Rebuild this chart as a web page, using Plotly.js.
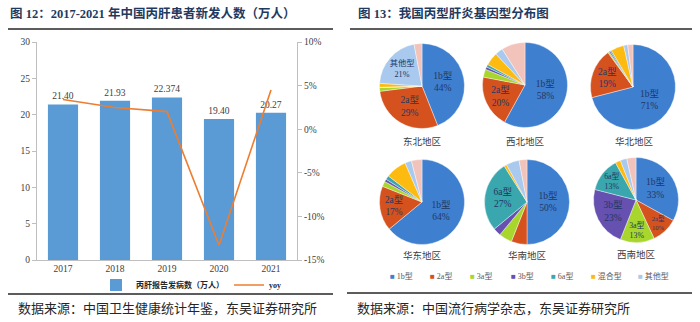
<!DOCTYPE html>
<html>
<head>
<meta charset="utf-8">
<script src="https://cdn.plot.ly/plotly-3.0.1.min.js"></script>
<style>html,body{margin:0;padding:0;background:#fff;}#chart{width:700px;height:322px;}</style>
</head>
<body>
<div id="chart"></div>
<script>
// ---- Left chart data ----
const years = ['2017', '2018', '2019', '2020', '2021'];
const newCases = [21.40, 21.93, 22.374, 19.40, 20.27];
const caseLabels = ['21.40', '21.93', '22.374', '19.40', '20.27'];
const yoy = [3.4, 2.48, 2.02, -13.3, 4.5];
const yoyTickVals = [-15, -10, -5, 0, 5, 10];
const yoyTickText = ['-15%', '-10%', '-5%', '0%', '5%', '10%'];

// ---- Right chart data ----
const genotypes = ['1b型', '2a型', '3a型', '3b型', '6a型', '混合型', '其他型', '未分型'];
const legendGenotypes = ['1b型', '2a型', '3a型', '3b型', '6a型', '混合型', '其他型'];
const regions = ['东北地区', '西北地区', '华北地区', '华东地区', '华南地区', '西南地区'];
const northeast = [44, 29, 1.5, 0, 0, 1.5, 21, 3];
const northwest = [58, 20, 3, 1, 1, 5, 3, 9];
const northChina = [71, 19, 0.5, 0.5, 0.5, 5, 1.5, 2];
const eastChina = [64, 17, 2, 1, 1.5, 8, 2.5, 4];
const southChina = [50, 6, 5, 3, 27, 1, 5, 3];
const southwest = [33, 10, 13, 23, 13, 2, 2.5, 3.5];
const labeledSlices = [
  ['1b型', '2a型', '其他型'],
  ['1b型', '2a型'],
  ['1b型', '2a型'],
  ['1b型', '2a型'],
  ['1b型', '6a型'],
  ['1b型', '2a型', '3a型', '3b型', '6a型']
];

// ---- styling ----
const W = 700, H = 322;
const px = x => x / W;
const py = y => 1 - y / H;
const genoColors = ['#3f7fcf', '#d5521f', '#a8d62c', '#6650b0', '#3aa6ae', '#fdbb11', '#a9c9ee', '#f2c3ba'];
const serif = 'Liberation Serif, Noto Sans CJK SC, serif';
const cjk = 'Noto Sans CJK SC, sans-serif';
const greyText = '#404040';
const axisGrey = '#bfbfbf';

const traces = [];
traces.push({
  type: 'bar', x: years, y: newCases, name: '<b>丙肝报告发病数（万人）</b>',
  marker: {color: '#5b9bd5'},
  text: caseLabels, textposition: 'outside', cliponaxis: false,
  textfont: {family: serif, size: 9.5, color: greyText},
  xaxis: 'x', yaxis: 'y', legend: 'legend', hoverinfo: 'skip'
});
traces.push({
  type: 'scatter', mode: 'lines', x: years, y: yoy, name: '<b>yoy</b>',
  line: {color: '#ed7d31', width: 1.6},
  xaxis: 'x', yaxis: 'y2', legend: 'legend', hoverinfo: 'skip'
});

const pieData = [northeast, northwest, northChina, eastChina, southChina, southwest];
const pieCenters = [[422, 86], [525, 85], [633, 87], [422, 202], [527, 202], [636, 200]];
const pieR = 42.5;
const regionLabelPos = [[422, 141], [525, 141], [634, 141], [422, 256], [527, 256], [636, 254]];

pieData.forEach((vals, i) => {
  const [cx, cy] = pieCenters[i];
  const tmpl = genotypes.map(g => labeledSlices[i].includes(g) ? '%{label}<br>%{percent:.0%}' : '');
  traces.push({
    type: 'pie', labels: genotypes, values: vals, sort: false,
    direction: 'clockwise', rotation: 0,
    domain: {x: [px(cx - pieR), px(cx + pieR)], y: [py(cy + pieR), py(cy - pieR)]},
    marker: {colors: genoColors, line: {color: '#ffffff', width: 0.4}},
    texttemplate: tmpl, textposition: 'inside', insidetextorientation: 'horizontal',
    textfont: {family: serif, size: 9.5, color: '#1f3864'},
    showlegend: false, hoverinfo: 'skip', name: regions[i]
  });
});

const annotations = [];
annotations.push({
  text: '<b>图 12：2017-2021 年中国丙肝患者新发人数（万人）</b>',
  xref: 'paper', yref: 'paper', x: px(8), y: py(14), xanchor: 'left', yanchor: 'middle',
  showarrow: false, font: {family: serif, size: 12.5, color: '#1f3a5f'}
});
annotations.push({
  text: '<b>图 13：我国丙型肝炎基因型分布图</b>',
  xref: 'paper', yref: 'paper', x: px(356), y: py(14), xanchor: 'left', yanchor: 'middle',
  showarrow: false, font: {family: serif, size: 12.5, color: '#1f3a5f'}
});
annotations.push({
  text: '数据来源：中国卫生健康统计年鉴，东吴证券研究所',
  xref: 'paper', yref: 'paper', x: px(16), y: py(307), xanchor: 'left', yanchor: 'middle',
  showarrow: false, font: {family: cjk, size: 13, color: '#262626'}
});
annotations.push({
  text: '数据来源：中国流行病学杂志，东吴证券研究所',
  xref: 'paper', yref: 'paper', x: px(355), y: py(307), xanchor: 'left', yanchor: 'middle',
  showarrow: false, font: {family: cjk, size: 13, color: '#262626'}
});
regions.forEach((r, i) => {
  annotations.push({
    text: r, xref: 'paper', yref: 'paper', x: px(regionLabelPos[i][0]), y: py(regionLabelPos[i][1]),
    xanchor: 'center', yanchor: 'middle', showarrow: false,
    font: {family: serif, size: 9.5, color: greyText}
  });
});
const legendX = [388, 428, 468, 509, 549, 589, 636];
legendGenotypes.forEach((g, i) => {
  annotations.push({
    text: '<span style="color:' + genoColors[i] + '">■</span> ' + g,
    xref: 'paper', yref: 'paper', x: px(legendX[i]), y: py(276),
    xanchor: 'left', yanchor: 'middle', showarrow: false,
    font: {family: serif, size: 8, color: '#595959'}
  });
});

const lineStyle = {color: '#262626', width: 1.6};
const shapes = [
  {type: 'line', xref: 'paper', yref: 'paper', x0: px(8), x1: px(333), y0: py(29), y1: py(29), line: lineStyle},
  {type: 'line', xref: 'paper', yref: 'paper', x0: px(350), x1: px(692), y0: py(29), y1: py(29), line: lineStyle},
  {type: 'line', xref: 'paper', yref: 'paper', x0: px(8), x1: px(333), y0: py(294), y1: py(294), line: lineStyle},
  {type: 'line', xref: 'paper', yref: 'paper', x0: px(347), x1: px(692), y0: py(293), y1: py(293), line: lineStyle}
];

const layout = {
  width: W, height: H,
  margin: {l: 0, r: 0, t: 0, b: 0},
  paper_bgcolor: '#ffffff', plot_bgcolor: 'rgba(0,0,0,0)',
  bargap: 0.42,
  showlegend: true,
  xaxis: {
    domain: [px(37), px(297)], type: 'category', anchor: 'y',
    showline: true, linecolor: axisGrey, linewidth: 1, ticks: '',
    tickfont: {family: serif, size: 9.5, color: greyText}, showgrid: false, zeroline: false,
    fixedrange: true
  },
  yaxis: {
    domain: [py(260), py(42)], range: [0, 30], dtick: 5, anchor: 'x',
    showline: true, linecolor: axisGrey, linewidth: 1, ticks: 'outside', ticklen: 4, tickcolor: axisGrey,
    tickfont: {family: serif, size: 9.5, color: greyText}, showgrid: false, zeroline: false
  },
  yaxis2: {
    overlaying: 'y', side: 'right', anchor: 'x', range: [-15, 10],
    tickvals: yoyTickVals, ticktext: yoyTickText,
    showline: true, linecolor: axisGrey, linewidth: 1, ticks: 'outside', ticklen: 4, tickcolor: axisGrey,
    tickfont: {family: serif, size: 9.5, color: greyText}, showgrid: false, zeroline: false
  },
  legend: {
    orientation: 'h', x: px(96), xanchor: 'left', y: py(285), yanchor: 'middle',
    font: {family: serif, size: 8, color: '#262626'}, bgcolor: 'rgba(0,0,0,0)',
    itemwidth: 30, tracegroupgap: 0
  },
  annotations: annotations,
  shapes: shapes
};

Plotly.newPlot('chart', traces, layout, {staticPlot: true, displayModeBar: false});
</script>
</body>
</html>
